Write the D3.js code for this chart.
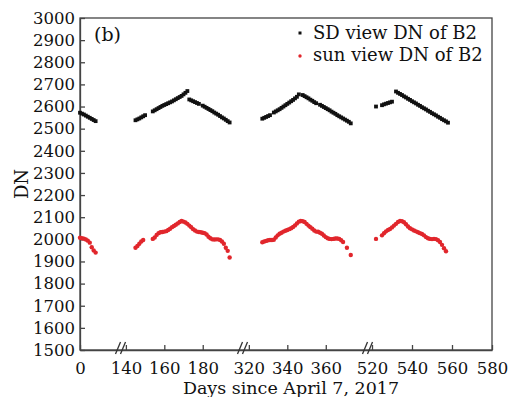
<!DOCTYPE html>
<html lang="en">
  <head>
    <meta charset="UTF-8" />
    <title>SD view / sun view DN of B2</title>
    <script src="https://d3js.org/d3.v7.min.js"></script>
    <style>
      body {
        margin: 0;
        background: #fff;
      }
      svg text {
        font-family: "DejaVu Serif", serif;
        fill: #111;
      }
      .axis path,
      .axis line {
        stroke: #444;
        stroke-width: 1.3px;
      }
      .axis text {
        font-size: 16.5px;
      }
    </style>
  </head>
  <body>
    <svg id="chart" width="510" height="397"></svg>
    <script>
      // days since April 7, 2017 and DN values
      let sdDays = [
        0, 1, 2, 3, 4, 5, 6, 7, 8,
        145, 146, 147, 148, 149, 150,
        154, 155, 156, 157, 158, 159, 160, 161, 162, 163, 164, 165, 166, 167, 168, 169, 170, 171, 172,
        173, 174, 175, 176, 177, 178,
        180, 181, 182, 183, 184, 185, 186, 187, 188, 189, 190, 191, 192, 193, 194,
        327, 328, 329, 330, 331,
        333, 334, 335, 336, 337, 338, 339, 340, 341, 342, 343, 344, 345, 346,
        348, 349, 350, 351, 352, 353, 354, 355,
        357, 358, 359, 360, 361, 362, 363, 364, 365, 366, 367, 368, 369, 370, 371, 372, 373,
        522,
        525, 526, 527, 528, 529, 530,
        532, 533, 534, 535, 536, 537, 538, 539, 540, 541, 542, 543, 544, 545, 546, 547, 548, 549,
        550, 551, 552, 553, 554, 555, 556, 557, 558,
      ];
      let sdDN = [
        2572, 2568, 2564, 2559, 2554, 2549, 2544, 2539, 2534,
        2538, 2542, 2546, 2551, 2556, 2561,
        2578, 2583, 2588, 2593, 2598, 2603, 2607, 2611, 2615, 2619, 2623, 2628, 2633, 2638, 2643, 2648, 2655, 2662, 2670,
        2632, 2628, 2624, 2620, 2616, 2612,
        2604, 2599, 2594, 2589, 2584, 2579, 2573, 2568, 2563, 2557, 2551, 2546, 2540, 2534, 2528,
        2545, 2549, 2553, 2557, 2561,
        2573, 2578, 2583, 2588, 2594, 2600, 2606, 2612, 2618, 2624, 2630, 2637, 2644, 2655,
        2652, 2647, 2642, 2637, 2631, 2626, 2620, 2615,
        2608, 2603, 2598, 2593, 2588, 2583, 2577, 2572, 2567, 2561, 2556, 2551, 2546, 2541, 2536, 2531, 2524,
        2600,
        2606, 2610, 2613, 2616, 2619, 2622,
        2668, 2662, 2657, 2652, 2646, 2641, 2635, 2630, 2624, 2619, 2614, 2608, 2603, 2597, 2592, 2587, 2581, 2576,
        2570, 2565, 2560, 2554, 2549, 2543, 2538, 2533, 2527,
      ];
      let sunDays = [
        0, 1, 2, 3, 4, 5, 6, 7, 8,
        145, 146, 147, 148, 149,
        154, 155, 156, 157, 158, 159, 160, 161, 162, 163, 164, 165, 166, 167, 168, 169,
        170, 171, 172, 173, 174, 175, 176, 177, 178, 179, 180, 181, 182, 183, 184, 185, 186, 187, 188, 189,
        190, 191, 192, 193, 194,
        327, 328, 329, 330, 331, 332, 333, 334, 335, 336, 337, 338, 339, 340, 341, 342, 343, 344, 345, 346,
        347, 348, 349, 350, 351, 352, 353, 354, 355, 356, 357, 358, 359, 360, 361, 362, 363, 364, 365, 366,
        367, 368, 369, 371, 373,
        522,
        525, 526, 527, 528, 529, 530, 531, 532, 533, 534, 535, 536, 537, 538, 539, 540, 541, 542, 543, 544,
        545, 546, 547, 548, 549, 550, 551, 552, 553, 554, 555, 556, 557,
      ];
      let sunDN = [
        2007, 2005, 2003, 1999, 1994, 1985, 1964, 1950, 1940,
        1962, 1970, 1980, 1990, 1997,
        2002, 2008, 2020, 2028, 2032, 2033, 2035, 2037, 2042, 2048, 2055, 2060, 2066, 2072, 2078, 2083,
        2080, 2076, 2070, 2062, 2055, 2046, 2040, 2035, 2033, 2032, 2030, 2028, 2022, 2012, 2005, 2000, 1999, 2000, 2000, 1997,
        1990, 1980, 1962, 1948, 1918,
        1987, 1990, 1993, 1996, 1997, 1997, 1998, 2008, 2018, 2025, 2030, 2035, 2039, 2042, 2046, 2050, 2056, 2063, 2072, 2080,
        2083, 2082, 2078, 2070, 2062, 2055, 2048, 2040, 2035, 2034, 2030, 2025, 2017, 2010, 2005, 2002, 2001, 2002, 2004, 2004,
        2002, 1996, 1988, 1962, 1929,
        2002,
        2018, 2028, 2036, 2042, 2047, 2054, 2062, 2070, 2078, 2083, 2082, 2077, 2068, 2058, 2050, 2045, 2040, 2036, 2032, 2028,
        2024, 2018, 2010, 2005, 2002, 2001, 2002, 2001, 1996, 1988, 1975, 1960, 1946,
      ];

      let xTicks = [0, 140, 160, 180, 320, 340, 360, 520, 540, 560, 580];
      let yTicks = d3.range(1500, 3001, 100);
      // broken x axis: day ranges shown, and their pixel spans inside the plot
      let xSegDays = [[0, 22], [138.5, 202], [318, 383], [519, 580]];
      let xSegPx = [[0, 43], [43, 165], [165, 290], [290, 412]];

      let legendNames = ["SD view DN of B2", "sun view DN of B2"];
      let colors = ["#111111", "#e1262c"];

      let margin = { left: 80, top: 18, right: 18, bottom: 47 };
      let width = 510 - margin.left - margin.right;
      let height = 397 - margin.top - margin.bottom;

      let svg = d3.select("#chart");
      let g = svg
        .append("g")
        .attr("transform", `translate(${margin.left},${margin.top})`);

      let x = d3
        .scaleLinear()
        .domain(xSegDays.flat())
        .range(xSegPx.flat());
      let y = d3.scaleLinear().domain([1500, 3000]).range([height, 0]);

      // frame
      g.append("rect")
        .attr("width", width)
        .attr("height", height)
        .attr("fill", "none")
        .attr("stroke", "#444")
        .attr("stroke-width", 1.3);

      g.append("g")
        .attr("class", "axis")
        .attr("transform", `translate(0,${height})`)
        .call(
          d3
            .axisBottom(x)
            .tickValues(xTicks)
            .tickFormat(d3.format("d"))
            .tickSizeInner(-5)
            .tickSizeOuter(0)
            .tickPadding(12)
        );

      g.append("g")
        .attr("class", "axis")
        .call(
          d3
            .axisLeft(y)
            .tickValues(yTicks)
            .tickFormat(d3.format("d"))
            .tickSizeInner(-5)
            .tickSizeOuter(0)
            .tickPadding(5)
        );
      g.selectAll(".axis text").attr("fill", "#111");

      // break marks on the x axis
      let breakAt = xSegPx.slice(1).map((s) => s[0]);
      breakAt.forEach(function (bx) {
        [-5, 0].forEach(function (off) {
          g.append("line")
            .attr("x1", bx + off - 2.5)
            .attr("y1", height + 4)
            .attr("x2", bx + off + 2.5)
            .attr("y2", height - 8)
            .attr("stroke", "#333")
            .attr("stroke-width", 1.3);
        });
      });

      // points
      let sdData = sdDays.map((d, i) => ({ day: d, dn: sdDN[i] }));
      let sunData = sunDays.map((d, i) => ({ day: d, dn: sunDN[i] }));

      g.selectAll(".sd")
        .data(sdData)
        .enter()
        .append("rect")
        .attr("class", "sd")
        .attr("x", (d) => x(d.day) - 1.9)
        .attr("y", (d) => y(d.dn) - 1.9)
        .attr("width", 3.8)
        .attr("height", 3.8)
        .attr("fill", colors[0]);

      g.selectAll(".sun")
        .data(sunData)
        .enter()
        .append("circle")
        .attr("class", "sun")
        .attr("cx", (d) => x(d.day))
        .attr("cy", (d) => y(d.dn))
        .attr("r", 2.2)
        .attr("fill", colors[1]);

      // legend
      let legend = svg.append("g").attr("transform", "translate(300,0)");
      legend
        .append("rect")
        .attr("x", -1.5)
        .attr("y", 31.5)
        .attr("width", 3)
        .attr("height", 3)
        .attr("fill", colors[0]);
      legend
        .append("circle")
        .attr("cx", 0)
        .attr("cy", 56)
        .attr("r", 1.7)
        .attr("fill", colors[1]);
      legend
        .selectAll(".lg")
        .data(legendNames)
        .enter()
        .append("text")
        .attr("x", 13)
        .attr("y", (d, i) => 38.5 + i * 22)
        .attr("font-size", "18px")
        .text((d) => d);

      svg
        .append("text")
        .attr("x", 94)
        .attr("y", 41)
        .attr("font-size", "19px")
        .text("(b)");

      svg
        .append("text")
        .attr("transform", `translate(28,${margin.top + height / 2}) rotate(-90)`)
        .attr("text-anchor", "middle")
        .attr("font-size", "18px")
        .text("DN");

      svg
        .append("text")
        .attr("x", 291)
        .attr("y", 394)
        .attr("text-anchor", "middle")
        .attr("font-size", "17.5px")
        .text("Days since April 7, 2017");
    </script>
  </body>
</html>
